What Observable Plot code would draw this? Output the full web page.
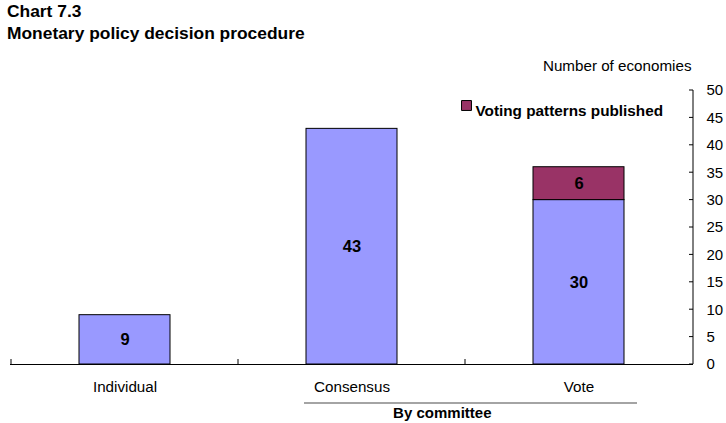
<!DOCTYPE html>
<html>
<head>
<meta charset="utf-8">
<script src="https://cdn.jsdelivr.net/npm/d3@7"></script>
<script src="https://cdn.jsdelivr.net/npm/@observablehq/plot@0.6"></script>
<style>
  body { margin: 0; background: #fff; font-family: "Liberation Sans", Arial, sans-serif; }
  #title { padding-left: 7px; height: 44px; font-weight: bold; font-size: 17.4px; line-height: 22px; color: #000; }
  #chart svg { display: block; }
</style>
</head>
<body>
<div id="title">
  <div>Chart 7.3</div>
  <div>Monetary policy decision procedure</div>
</div>
<div id="chart"></div>
<script>
// Decision procedures and number of economies using each
const categories = ["Individual", "Consensus", "Vote"];
const unpublishedCounts = [9, 43, 30];
const publishedCounts = [0, 0, 6];
const seriesNames = ["Voting patterns not published", "Voting patterns published"];
const seriesColors = ["#9999ff", "#993366"];
const legendSeries = ["Voting patterns published"];
const yTicks = [0, 5, 10, 15, 20, 25, 30, 35, 40, 45, 50];
const unitLabel = "Number of economies";
const groupLabel = "By committee";
const groupMembers = ["Consensus", "Vote"];

// Long table for the stacked bars (zero segments are skipped)
const rows = [];
categories.forEach((c, i) => {
  rows.push({category: c, series: seriesNames[0], value: unpublishedCounts[i]});
  rows.push({category: c, series: seriesNames[1], value: publishedCounts[i]});
});
const segments = rows.filter(d => d.value > 0);

// Right-hand axis line, inward ticks, category separators and the committee bracket
function decorations(index, scales, values, dimensions) {
  const {x, y} = scales;
  const {width, marginRight} = dimensions;
  const right = width - marginRight;
  const base = y(0);
  const bw = typeof x.bandwidth === "function" ? x.bandwidth() : x.bandwidth;
  const step = typeof x.step === "function" ? x.step() : x.step;
  const g = d3.create("svg:g");

  g.append("line")
    .attr("x1", right).attr("x2", right)
    .attr("y1", y(d3.max(yTicks))).attr("y2", base)
    .attr("stroke", "#000");

  g.append("g").selectAll("line").data(yTicks).join("line")
    .attr("x1", right - 4).attr("x2", right)
    .attr("y1", d => y(d)).attr("y2", d => y(d))
    .attr("stroke", "#000");

  g.append("g").selectAll("line").data(categories).join("line")
    .attr("x1", c => x(c) + bw / 2 - step / 2).attr("x2", c => x(c) + bw / 2 - step / 2)
    .attr("y1", base - 5).attr("y2", base)
    .attr("stroke", "#000");

  const first = groupMembers[0], last = groupMembers[groupMembers.length - 1];
  g.append("line")
    .attr("x1", x(first) - 2)
    .attr("x2", x(last) + bw + 13)
    .attr("y1", base + 39).attr("y2", base + 39)
    .attr("stroke", "#a4a4a4").attr("stroke-width", 2);

  g.append("text")
    .attr("x", (x(first) + x(last) + bw) / 2 - 0.1 * step)
    .attr("y", base + 49)
    .attr("dy", "0.35em")
    .attr("text-anchor", "middle")
    .attr("font-weight", "bold")
    .attr("font-size", 15)
    .attr("fill", "#000")
    .text(groupLabel);

  return g.node();
}

const chart = Plot.plot({
  width: 726,
  height: 379,
  marginTop: 46,
  marginBottom: 59,
  marginLeft: 10,
  marginRight: 33,
  style: {fontFamily: "'Liberation Sans', Arial, sans-serif", fontSize: "15px", color: "#000", background: "#fff"},
  x: {domain: categories, paddingInner: 0.6, paddingOuter: 0.3, label: null},
  y: {domain: [0, 50], label: null},
  color: {domain: seriesNames, range: seriesColors},
  marks: [
    Plot.barY(segments, {x: "category", y: "value", fill: "series", stroke: "#000", strokeWidth: 1}),
    Plot.text(segments, Plot.stackY({
      x: "category", y: "value", z: "series", text: d => String(d.value),
      fontWeight: "bold", fontSize: 16.5, fill: "#000"
    })),
    Plot.ruleY([0], {stroke: "#000"}),
    Plot.axisY(yTicks, {anchor: "right", tickSize: 0, tickPadding: 13, textAnchor: "start", fontSize: 15, label: null}),
    Plot.axisX({tickSize: 0, tickPadding: 17, fontSize: 15.2, label: null}),
    decorations,
    Plot.text([unitLabel], {frameAnchor: "top-right", text: d => d, textAnchor: "end", dx: -2, dy: -30, fontSize: 15.2, fill: "#000"}),
    Plot.dot(legendSeries, {frameAnchor: "top-right", fill: d => d, symbol: "square", r: 5.6, stroke: "#000", strokeWidth: 1, dx: -227, dy: 15}),
    Plot.text(legendSeries, {frameAnchor: "top-right", text: d => d, textAnchor: "start", dx: -218, dy: 15, fontWeight: "bold", fontSize: 15.3, fill: "#000"})
  ]
});

document.getElementById("chart").appendChild(chart);
</script>
</body>
</html>
